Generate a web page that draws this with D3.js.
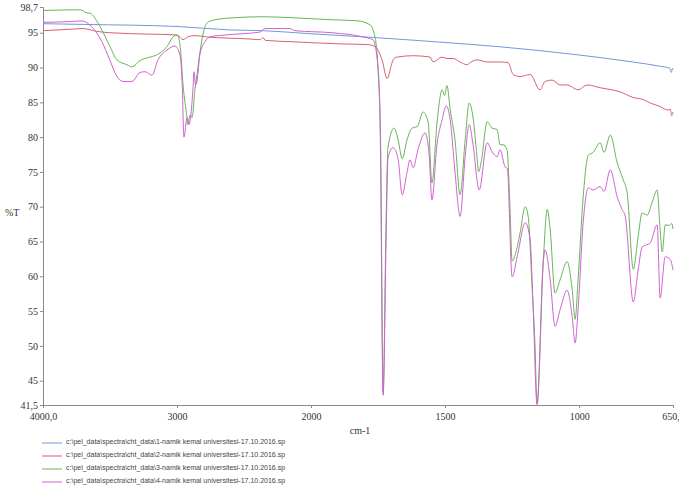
<!DOCTYPE html>
<html>
<head>
<meta charset="utf-8">
<script src="https://cdn.jsdelivr.net/npm/d3@7"></script>
<style>
  body { margin: 0; background: #fff; }
  svg { display: block; }
  .axis text, .lbl { font-family: "Liberation Serif", "DejaVu Serif", serif; font-size: 10px; fill: #333; }
</style>
</head>
<body>
<svg id="chart" width="679" height="504"></svg>
<script>
// wavenumber (cm-1), %T
const spec1 = [[4000,96.3],[3700,96.2],[3000,95.9],[2600,95.4],[2360,95.3],[2000,94.85],[1800,94.4],
  [1500,93.6],[1300,93.0],[1000,91.8],[800,90.8],[700,90.2],[662,89.9],[656,89.3],[652,89.9],[650,89.7]];

const spec2 = [[4000,95.3],[3800,95.5],[3700,95.6],[3600,95.2],[3500,95.0],[3200,94.8],[3015,94.7],
  [2985,94.5],[2955,94.0],[2920,94.4],[2870,94.6],[2780,94.4],[2455,94.1],[2380,94.0],[2360,94.3],
  [2340,93.9],[2134,93.7],[1892,93.4],[1790,93.3],[1761,93.0],[1735,91.1],[1716,88.4],[1700,90.4],
  [1694,91.1],[1679,91.5],[1619,91.7],[1556,91.5],[1545,90.8],[1511,91.5],[1493,91.3],[1470,91.3],
  [1444,90.8],[1418,90.4],[1407,90.7],[1381,91.1],[1343,90.8],[1295,90.8],[1265,90.7],[1246,89.0],
  [1220,88.7],[1183,89.0],[1146,86.8],[1127,88.0],[1101,88.2],[1071,87.5],[1045,87.5],[1004,86.8],
  [970,87.5],[922,87.1],[847,86.5],[799,85.7],[761,85.4],[735,84.9],[698,84.4],[670,83.9],
  [660,84.0],[655,83.1],[650,83.6]];

const spec3 = [[4000,98.2],[3720,98.3],[3680,97.9],[3649,97.8],[3575,95.9],[3500,93.0],[3448,91.1],
  [3373,90.4],[3336,90.1],[3276,91.0],[3201,91.5],[3164,91.7],[3127,92.1],[3075,93.0],[3030,94.4],
  [3000,94.7],[2978,93.3],[2955,87.5],[2930,83.5],[2918,81.8],[2903,83.2],[2888,82.8],[2866,86.8],
  [2851,89.0],[2828,92.3],[2806,94.8],[2776,96.4],[2731,96.8],[2582,97.15],[2358,97.3],[2134,97.15],
  [1918,96.86],[1828,96.72],[1780,96.14],[1761,94.3],[1750,89.7],[1740,78],[1731,43.3],[1720,68],
  [1713,78.5],[1690,81.3],[1675,79.6],[1660,76.9],[1642,79.6],[1623,81.3],[1604,81.5],[1582,83.6],
  [1563,82.1],[1549,73.4],[1530,82.1],[1511,86.8],[1502,86.0],[1493,87.4],[1481,84.0],[1463,79.6],
  [1444,71.7],[1425,79.6],[1410,84.9],[1396,82.9],[1381,77.2],[1375,75.0],[1365,76.5],[1343,82.2],
  [1325,81.3],[1306,81.1],[1295,78.9],[1284,78.9],[1269,78.2],[1258,70.0],[1250,62.2],[1231,64.2],
  [1220,66.3],[1201,70.0],[1190,68.6],[1175,58.1],[1165,50.5],[1157,41.6],[1134,62.0],[1119,69.6],
  [1108,66.7],[1090,57.6],[1071,59.5],[1045,62.1],[1026,58.1],[1015,53.8],[1004,59.5],[985,71.4],
  [966,77.4],[948,77.8],[922,79.2],[907,77.8],[884,80.3],[858,76.3],[836,73.9],[821,72.0],
  [798,61.0],[780,65.7],[765,69.1],[746,68.8],[728,70.6],[709,72.4],[698,66.7],[690,63.5],
  [679,67.4],[665,67.3],[655,67.6],[650,66.8]];

const spec4 = [[4000,96.5],[3800,96.6],[3709,96.7],[3650,96.1],[3560,93.7],[3500,91.0],[3448,88.7],
  [3403,88.0],[3336,88.0],[3276,89.3],[3239,89.4],[3187,88.9],[3142,91.1],[3075,92.5],[3015,93.1],
  [2978,91.8],[2962,88.0],[2948,80.0],[2925,82.8],[2910,81.8],[2881,86.9],[2873,89.4],[2862,87.5],
  [2851,88.0],[2828,92.0],[2791,93.7],[2754,94.4],[2627,94.7],[2381,95.1],[2365,95.3],[2350,95.6],
  [2157,95.6],[2119,95.3],[1918,94.99],[1806,94.4],[1769,93.99],[1750,90.0],[1743,84.0],[1731,42.9],
  [1720,65],[1713,77.0],[1694,78.5],[1675,76.8],[1660,71.7],[1642,74.9],[1631,76.75],[1619,75.6],
  [1601,78.2],[1575,80.6],[1560,77.8],[1549,71.0],[1530,79.0],[1511,82.5],[1496,84.5],[1481,82.5],
  [1463,75.0],[1444,68.6],[1425,77.2],[1410,81.8],[1396,79.0],[1373,72.4],[1343,79.2],[1325,77.9],
  [1306,77.2],[1295,78.2],[1276,75.7],[1268,75.5],[1250,59.9],[1231,62.8],[1201,67.7],[1183,65.3],
  [1172,56.0],[1157,41.6],[1134,62.0],[1127,63.8],[1108,59.5],[1090,52.8],[1071,55.2],[1045,58.0],
  [1026,54.2],[1015,50.4],[1004,55.2],[985,67.7],[966,72.7],[948,72.4],[922,72.9],[907,72.2],
  [884,75.3],[858,71.4],[840,69.6],[828,68.6],[798,56.3],[780,60.9],[765,64.2],[735,64.8],
  [709,67.4],[698,56.9],[679,62.8],[660,62.4],[650,60.9]];

const seriesNames = [
  "c:\\pel_data\\spectra\\cht_data\\1-namik kemal universitesi-17.10.2016.sp",
  "c:\\pel_data\\spectra\\cht_data\\2-namik kemal universitesi-17.10.2016.sp",
  "c:\\pel_data\\spectra\\cht_data\\3-namik kemal universitesi-17.10.2016.sp",
  "c:\\pel_data\\spectra\\cht_data\\4-namik kemal universitesi-17.10.2016.sp"
];
const xTicks = [4000, 3000, 2000, 1500, 1000, 650];
const xTickLabels = ["4000,0", "3000", "2000", "1500", "1000", "650,0"];
const yTicks = [41.5, 45, 50, 55, 60, 65, 70, 75, 80, 85, 90, 95, 98.7];

const colors = ["#7298d8", "#d4646e", "#66b655", "#d062d2"];
const allSpectra = [spec1, spec2, spec3, spec4];

const svg = d3.select('#chart');

// scale breaks at 2000 cm-1 (expanded below)
const x = d3.scaleLinear().domain([4000, 2000, 650]).range([43, 311, 673]);
const y = d3.scaleLinear().domain([41.5, 98.7]).range([405, 7]);

// axes
const axisColor = "#8a8a8a";
const yAxis = svg.append('g')
  .attr('class', 'axis')
  .attr('transform', 'translate(43,0)')
  .call(d3.axisLeft(y).tickValues(yTicks).tickSize(3).tickPadding(2)
    .tickFormat(d => String(d).replace('.', ',')));
const xAxis = svg.append('g')
  .attr('class', 'axis')
  .attr('transform', 'translate(0,405)')
  .call(d3.axisBottom(x).tickValues(xTicks).tickSize(3).tickPadding(5)
    .tickFormat((d, i) => xTickLabels[i]));

[yAxis, xAxis].forEach(g => {
  g.attr('font-family', null).attr('font-size', null);
  g.select('.domain').attr('stroke', axisColor);
  g.selectAll('.tick line').attr('stroke', axisColor);
  g.selectAll('.tick text').attr('fill', null);
});

svg.append('text')
  .attr('class', 'lbl')
  .attr('x', 5).attr('y', 216)
  .text('%T');

svg.append('text')
  .attr('class', 'lbl')
  .attr('x', 360).attr('y', 434)
  .attr('text-anchor', 'middle')
  .text('cm-1');

// spectra
const line = d3.line()
  .x(d => x(d[0]))
  .y(d => y(d[1]))
  .curve(d3.curveMonotoneX);

svg.append('g').selectAll('path')
  .data(allSpectra)
  .join('path')
  .attr('d', line)
  .attr('fill', 'none')
  .attr('stroke', (d, i) => colors[i])
  .attr('stroke-width', 1);

// legend
const legend = svg.append('g').selectAll('g')
  .data(seriesNames)
  .join('g')
  .attr('transform', (d, i) => 'translate(0,' + (441 + i * 13) + ')');

legend.append('line')
  .attr('x1', 42).attr('x2', 62)
  .attr('y1', 2).attr('y2', 2)
  .attr('stroke', (d, i) => colors[i])
  .attr('stroke-width', 1);

legend.append('text')
  .attr('x', 66).attr('y', 2.5)
  .attr('fill', '#444')
  .style('font-family', '"Liberation Sans", Arial, sans-serif')
  .style('font-size', '7px')
  .text(d => d);
</script>
</body>
</html>
